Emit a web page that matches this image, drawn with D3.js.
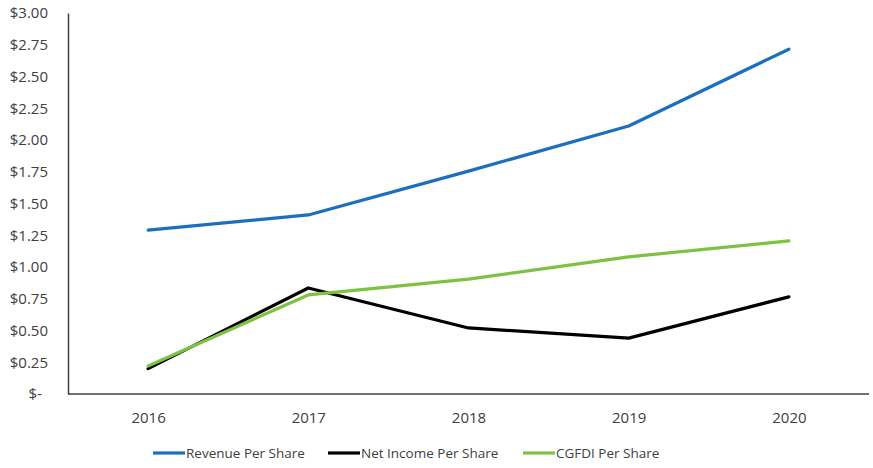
<!DOCTYPE html>
<html><head><meta charset="utf-8">
<script src="https://cdn.jsdelivr.net/npm/d3@7"></script>
<style>body{margin:0;background:#fff}svg text{font-family:"Open Sans",sans-serif;fill:#404040}</style>
</head><body><svg id="c" width="873" height="468"></svg>
<script>
const years = ["2016","2017","2018","2019","2020"];
const revenue = [1.29, 1.41, 1.755, 2.11, 2.715];
const netIncome = [0.20, 0.835, 0.52, 0.44, 0.765];
const cgfdi = [0.22, 0.78, 0.905, 1.08, 1.205];
const yTicks = [0,0.25,0.5,0.75,1,1.25,1.5,1.75,2,2.25,2.5,2.75,3];
const seriesNames = ["Revenue Per Share","Net Income Per Share","CGFDI Per Share"];
const colors = ["#1b6fbe","#000000","#7dc243"];

const svg = d3.select("#c");
const L=68,R=869,T=13,B=394;
const x = d3.scalePoint().domain(years).range([L,R]).padding(0.5);
const y = d3.scaleLinear().domain([0,3]).range([B,T]);

// y axis
const ya = svg.append("g").attr("transform",`translate(${L},0)`)
  .call(d3.axisLeft(y).tickValues(yTicks).tickSize(0).tickPadding(20)
    .tickFormat(d=> d===0 ? "$-" : "$"+d.toFixed(2)));
ya.select(".domain").attr("stroke","#404040").attr("stroke-width",1.5);
ya.selectAll("text").attr("font-size",15).attr("fill","#404040");
ya.selectAll("text").filter(d=>d===0).attr("dx",-6);

// x axis
const xa = svg.append("g").attr("transform",`translate(0,${B})`)
  .call(d3.axisBottom(x).tickSize(0).tickPadding(18));
xa.select(".domain").attr("stroke","#404040").attr("stroke-width",1.5).attr("d",`M${L},0H${R}`);
xa.selectAll("text").attr("font-size",15).attr("fill","#404040");

const data=[revenue,netIncome,cgfdi];
const line=d3.line().x((d,i)=>x(years[i])).y(d=>y(d));
[1,2,0].forEach(k=>{
  svg.append("path").datum(data[k]).attr("d",line).attr("fill","none")
    .attr("stroke",colors[k]).attr("stroke-width",3.2).attr("stroke-linejoin","round").attr("stroke-linecap","round");
});

// legend
const lg=[{x:153,t:seriesNames[0]},{x:328,t:seriesNames[1]},{x:523,t:seriesNames[2]}];
lg.forEach((o,k)=>{
  svg.append("line").attr("x1",o.x).attr("x2",o.x+32).attr("y1",453).attr("y2",453)
    .attr("stroke",colors[k]).attr("stroke-width",3.2);
  svg.append("text").attr("x",o.x+33).attr("y",458).attr("font-size",13.5).text(o.t);
});
</script></body></html>
